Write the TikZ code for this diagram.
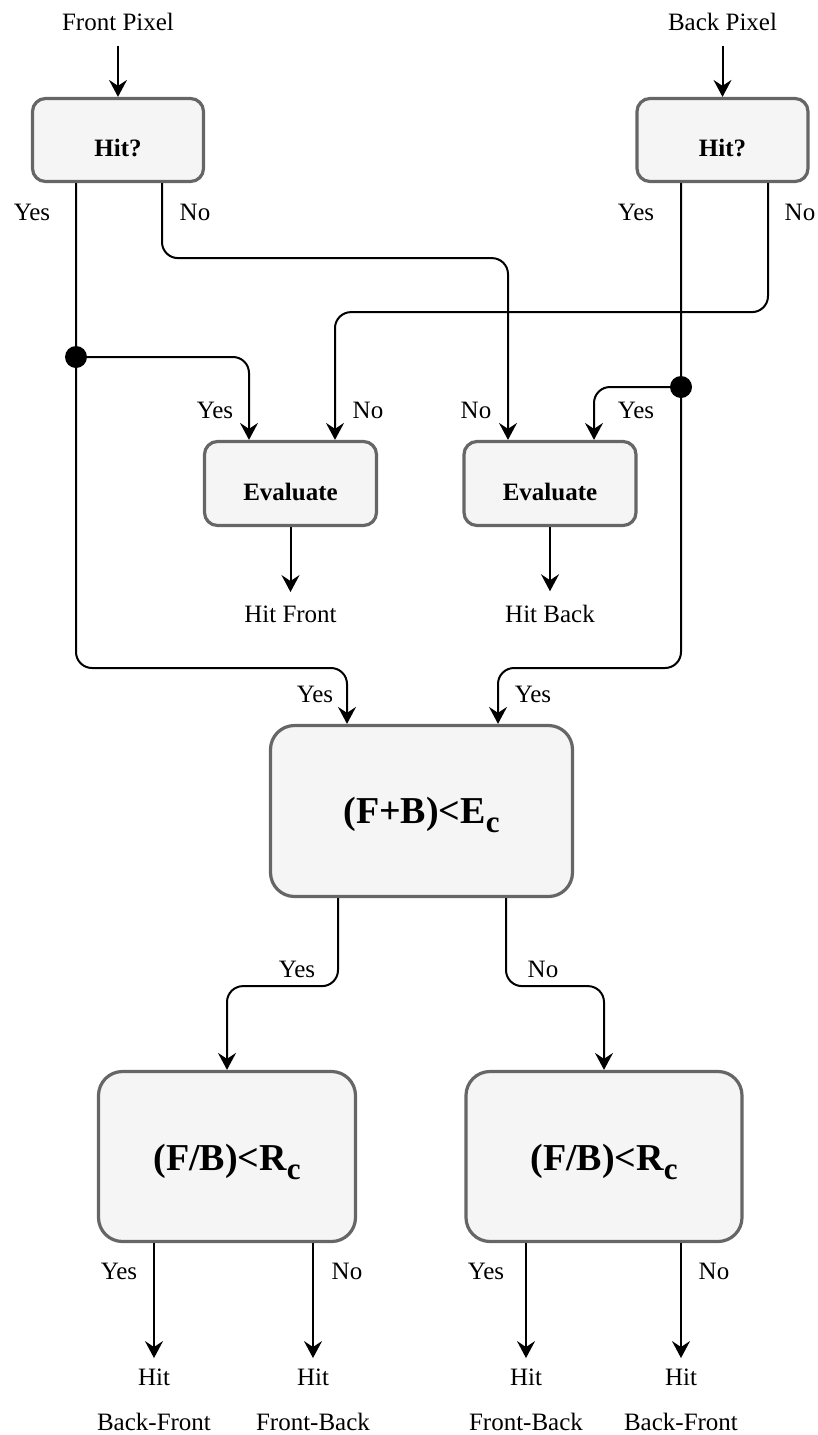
\documentclass[tikz,border=0pt]{standalone}
\usepackage{fontspec}
\setmainfont{Liberation Serif}
\usetikzlibrary{arrows.meta,calc}
\definecolor{boxfill}{HTML}{F5F5F5}
\definecolor{boxline}{HTML}{666666}
\begin{document}
\begin{tikzpicture}[x=0.5pt,y=-0.5pt,
  lbl/.style={font=\fontsize{12.5}{15}\selectfont, inner sep=0pt, anchor=base},
  smallbox/.style={draw=boxline, fill=boxfill, line width=1.6pt, rounded corners=6.5pt,
    inner sep=0pt, text depth=0pt, font=\bfseries\fontsize{12.5}{15}\selectfont},
  bigbox/.style={draw=boxline, fill=boxfill, line width=1.6pt, rounded corners=12pt,
    inner sep=0pt, text depth=0pt, font=\bfseries\fontsize{19}{23}\selectfont},
  conn/.style={line width=1pt, rounded corners=8pt},
  arr/.style={conn, -{Stealth[length=8.5pt,width=9pt,inset=3pt]}},
  junction/.style={circle, fill=black, inner sep=0pt, minimum size=11pt}
]
\useasboundingbox (0,0) rectangle (818,1435);

% decision and evaluation boxes
\node[smallbox, minimum width=85.5pt, minimum height=41.5pt, text height=16pt] (hit1) at (118,140) {Hit?};
\node[smallbox, minimum width=85.5pt, minimum height=41.5pt, text height=16pt] (hit2) at (722.5,140) {Hit?};
\node[smallbox, minimum width=86pt, minimum height=42pt, text height=16.5pt] (eval1) at (290.5,483.5) {Evaluate};
\node[smallbox, minimum width=86pt, minimum height=42pt, text height=16.5pt] (eval2) at (550,483.5) {Evaluate};
\node[bigbox, minimum width=151pt, minimum height=85.5pt, text height=12pt] (big) at (421.5,811)
  {(F+B)<E\raisebox{-4.5pt}{\fontsize{15.5}{17}\selectfont c}};
\node[bigbox, minimum width=128.5pt, minimum height=85pt, text height=13.5pt] (boxL) at (227,1156.5)
  {(F/B)<R\raisebox{-4.5pt}{\fontsize{15.5}{17}\selectfont c}};
\node[bigbox, minimum width=138pt, minimum height=85pt, text height=13.5pt] (boxR) at (604,1156.5)
  {(F/B)<R\raisebox{-4.5pt}{\fontsize{15.5}{17}\selectfont c}};

% junction dots
\node[junction] (dotL) at (76,357) {};
\node[junction] (dotR) at (681,387) {};

% inputs
\node[lbl] (fp) at (118,30) {Front Pixel};
\node[lbl] (bp) at (722.5,30) {Back Pixel};
\draw[arr, shorten <=7.5pt] (fp.south) -- (hit1.north);
\draw[arr, shorten <=7.5pt] (bp.south) -- (hit2.north);

% outputs of the evaluation boxes
\node[lbl] (hf) at (290.5,622) {Hit Front};
\node[lbl] (hb) at (550,622) {Hit Back};
\draw[arr, shorten >=6.5pt] (eval1.south) -- (hf.north);
\draw[arr, shorten >=6.5pt] (eval2.south) -- (hb.north);

% final outcomes
\node[lbl] (o1) at (154,1385) {Hit};
\node[lbl] (o2) at (313,1385) {Hit};
\node[lbl] (o3) at (526,1385) {Hit};
\node[lbl] (o4) at (681,1385) {Hit};
\node[lbl] (d1) at (154,1430) {Back-Front};
\node[lbl] (d2) at (313,1430) {Front-Back};
\node[lbl] (d3) at (526,1430) {Front-Back};
\node[lbl] (d4) at (681,1430) {Back-Front};

% front pixel branches
\draw[arr] (hit1.south -| dotL) -- (dotL |- 0,668) -| ($(big.north)+(-74.5,0)$);
\draw[arr] (dotL.center) -| ($(eval1.north)+(-41.5,0)$);
\draw[arr] ($(hit1.south)+(44,0)$) -- ++(0,75) -| ($(eval2.north)+(-42,0)$);

% back pixel branches
\draw[arr] (hit2.south -| dotR) -- (dotR |- 0,668) -| ($(big.north)+(76.5,0)$);
\draw[arr] (dotR.center) -| ($(eval2.north)+(44,0)$);
\draw[arr] ($(hit2.south)+(45.5,0)$) -- ++(0,129) -| ($(eval1.north)+(44.5,0)$);

% energy test branches
\draw[arr] ($(big.south)+(-83.5,0)$) -- ++(0,88) -| (boxL.north);
\draw[arr] ($(big.south)+(84.5,0)$) -- ++(0,88) -| (boxR.north);

% ratio test branches
\draw[arr, shorten >=5pt] ($(boxL.south)+(-73,0)$) -- (o1.north);
\draw[arr, shorten >=5pt] ($(boxL.south)+(86,0)$) -- (o2.north);
\draw[arr, shorten >=5pt] ($(boxR.south)+(-78,0)$) -- (o3.north);
\draw[arr, shorten >=5pt] ($(boxR.south)+(77,0)$) -- (o4.north);

% branch labels
\node[lbl] (l1) at (32,220) {Yes};
\node[lbl] (l2) at (195,220) {No};
\node[lbl] (l3) at (636,220) {Yes};
\node[lbl] (l4) at (800,220) {No};
\node[lbl] (l5) at (215,418) {Yes};
\node[lbl] (l6) at (368,418) {No};
\node[lbl] (l7) at (476,418) {No};
\node[lbl] (l8) at (636,418) {Yes};
\node[lbl] (l9) at (315,702) {Yes};
\node[lbl] (l10) at (533,702) {Yes};
\node[lbl] (l11) at (297,977) {Yes};
\node[lbl] (l12) at (543,977) {No};
\node[lbl] (l13) at (119,1279) {Yes};
\node[lbl] (l14) at (347,1279) {No};
\node[lbl] (l15) at (486,1279) {Yes};
\node[lbl] (l16) at (714,1279) {No};
\end{tikzpicture}
\end{document}
